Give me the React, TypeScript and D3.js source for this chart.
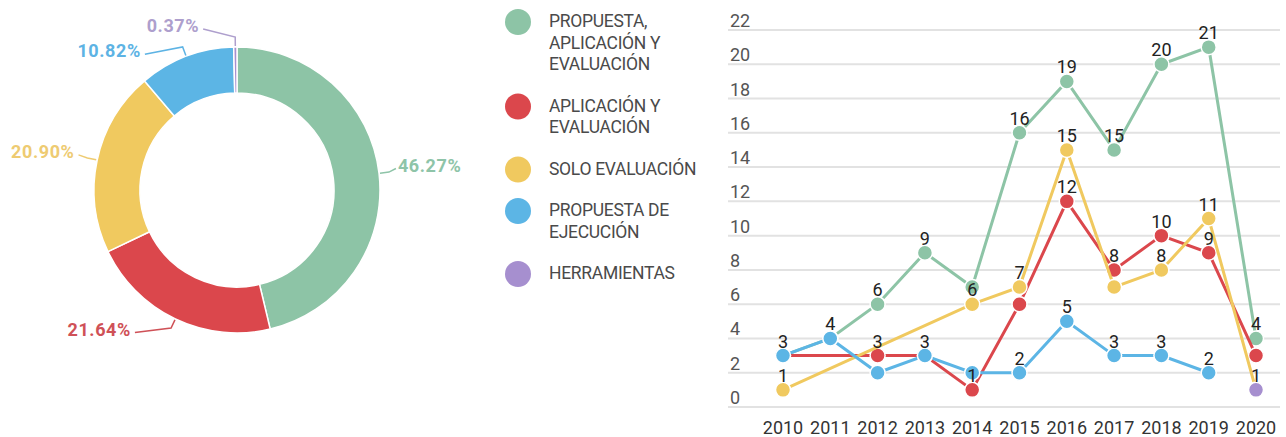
import React from "react";
import * as d3 from "d3";

// ---------- data ----------
const categories = [
  "PROPUESTA, APLICACIÓN Y EVALUACIÓN",
  "APLICACIÓN Y EVALUACIÓN",
  "SOLO EVALUACIÓN",
  "PROPUESTA DE EJECUCIÓN",
  "HERRAMIENTAS",
];
const legendLines = [
  ["PROPUESTA,", "APLICACIÓN Y", "EVALUACIÓN"],
  ["APLICACIÓN Y", "EVALUACIÓN"],
  ["SOLO EVALUACIÓN"],
  ["PROPUESTA DE", "EJECUCIÓN"],
  ["HERRAMIENTAS"],
];
const sharePct = [46.27, 21.64, 20.9, 10.82, 0.37];

const years = [2010, 2011, 2012, 2013, 2014, 2015, 2016, 2017, 2018, 2019, 2020];
const propuestaAplicacionEvaluacion = [3, 4, 6, 9, 7, 16, 19, 15, 20, 21, 4];
const aplicacionEvaluacion = [3, null, 3, 3, 1, 6, 12, 8, 10, 9, 3];
const soloEvaluacion = [1, null, null, null, 6, 7, 15, 7, 8, 11, 1];
const propuestaEjecucion = [3, 4, 2, 3, 2, 2, 5, 3, 3, 2, null];
const herramientas = [null, null, null, null, null, null, null, null, null, null, 1];
const seriesValues = [
  propuestaAplicacionEvaluacion,
  aplicacionEvaluacion,
  soloEvaluacion,
  propuestaEjecucion,
  herramientas,
];
// value labels not shown in the chart (series index, year)
const hiddenLabels: [number, number][] = [
  [0, 2010], [0, 2011], [0, 2014],
  [1, 2010], [1, 2013], [1, 2015], [1, 2020],
  [2, 2017], [2, 2020],
  [3, 2012], [3, 2014],
];
const yTicks = [0, 2, 4, 6, 8, 10, 12, 14, 16, 18, 20, 22];

// ---------- style ----------
const colors = ["#8dc4a6", "#db474c", "#f0c95f", "#5cb5e5", "#a68fcf"];
const labelColors = ["#8ec4a8", "#cf5157", "#eecb72", "#5db3e4", "#ae9fcd"];
// per-slice label nudges (layout)
const labelNudge: [number, number][] = [
  [2, 0],
  [-36, 3],
  [-6, 1],
  [-38, 15],
  [-34, 0],
];
const FONT = "Roboto, 'Noto Sans', sans-serif";

export default function App() {
  // donut
  const cx = 237, cy = 190, R = 143, r0 = 97;
  const pie = d3.pie<number>().sort(null).value((d) => d)(sharePct);
  const arc = d3.arc<d3.PieArcDatum<number>>().innerRadius(r0).outerRadius(R);
  const polar = (a: number, rad: number): [number, number] => [
    cx + Math.sin(a) * rad,
    cy - Math.cos(a) * rad,
  ];

  // line chart
  const x = d3.scalePoint<number>().domain(years).range([783, 1256]);
  const y = d3.scaleLinear().domain([0, 22]).range([407, 30]);
  const gridX0 = 728, gridX1 = 1280;
  const line = d3
    .line<{ year: number; v: number }>()
    .x((d) => x(d.year) as number)
    .y((d) => y(d.v));

  // legend layout
  const legendItems: { lines: string[]; y: number; i: number }[] = [];
  let ly = 22;
  legendLines.forEach((lines, i) => {
    legendItems.push({ lines, y: ly, i });
    ly += lines.length * 21.5 + 20;
  });

  return (
    <svg
      width={1286}
      height={437}
      style={{ position: "absolute", left: 0, top: 0, background: "#fff" }}
      fontFamily={FONT}
    >
      {/* Donut */}
      <g transform={`translate(${cx},${cy})`}>
        {pie.map((p, i) => (
          <path key={i} d={arc(p) as string} fill={colors[i]} stroke="#fff" strokeWidth={1.5} />
        ))}
      </g>
      {pie.map((p, i) => {
        const mid = (p.startAngle + p.endAngle) / 2;
        const [ax, ay] = polar(mid, R + 15);
        const tx = ax + labelNudge[i][0];
        const ty = ay + labelNudge[i][1];
        const right = Math.sin(mid) > 0;
        const p0 = polar(mid, R + 1);
        const p1 = polar(mid, R + 10);
        const endX = right ? tx : tx + 2;
        const pts: [number, number][] = [p0, p1, [endX, ty - 3]];
        return (
          <g key={i}>
            <polyline
              points={pts.map((q) => q.join(",")).join(" ")}
              fill="none"
              stroke={labelColors[i]}
              strokeWidth={1.5}
            />
            <text
              x={right ? tx + 2 : tx - 2}
              y={ty}
              textAnchor={right ? "start" : "end"}
              fontSize={18}
              fontWeight={700}
              letterSpacing={0.6}
              fill={labelColors[i]}
            >
              {sharePct[i].toFixed(2) + "%"}
            </text>
          </g>
        );
      })}

      {/* Legend */}
      {legendItems.map((it) => (
        <g key={it.i}>
          <circle cx={518} cy={it.y} r={13} fill={colors[it.i]} />
          {it.lines.map((t, j) => (
            <text
              key={j}
              x={549}
              y={it.y + 5 + j * 21.5}
              fontSize={17.5}
              letterSpacing={-0.3}
              fill="#4a4a4a"
            >
              {t}
            </text>
          ))}
        </g>
      ))}

      {/* Grid + y axis */}
      {yTicks.map((t) => (
        <g key={t}>
          <line x1={gridX0} x2={gridX1} y1={y(t)} y2={y(t)} stroke="#e2e2e2" strokeWidth={2} />
          <text x={730} y={y(t) - 3} fontSize={18} fill="#555">
            {t}
          </text>
        </g>
      ))}
      {/* x axis labels */}
      {years.map((yr) => (
        <text key={yr} x={x(yr)} y={434} textAnchor="middle" fontSize={18} fill="#333">
          {yr}
        </text>
      ))}

      {/* Series */}
      {seriesValues.map((vals, si) => {
        const pts = years
          .map((year, k) => ({ year, v: vals[k] as number | null }))
          .filter((d) => d.v != null) as { year: number; v: number }[];
        return (
          <g key={si}>
            {pts.length > 1 && (
              <path d={line(pts) as string} fill="none" stroke={colors[si]} strokeWidth={3} />
            )}
            {pts.map((d) => (
              <circle
                key={d.year}
                cx={x(d.year)}
                cy={y(d.v)}
                r={7.5}
                fill={colors[si]}
                stroke="#fff"
                strokeWidth={1.5}
              />
            ))}
          </g>
        );
      })}
      {/* value labels */}
      {seriesValues.map((vals, si) =>
        years.map((year, k) => {
          const v = vals[k];
          if (v == null) return null;
          if (hiddenLabels.some(([s, yy]) => s === si && yy === year)) return null;
          return (
            <text
              key={`${si}-${year}`}
              x={x(year)}
              y={y(v) - 8}
              textAnchor="middle"
              fontSize={18}
              fill="#222"
            >
              {v}
            </text>
          );
        })
      )}
    </svg>
  );
}
